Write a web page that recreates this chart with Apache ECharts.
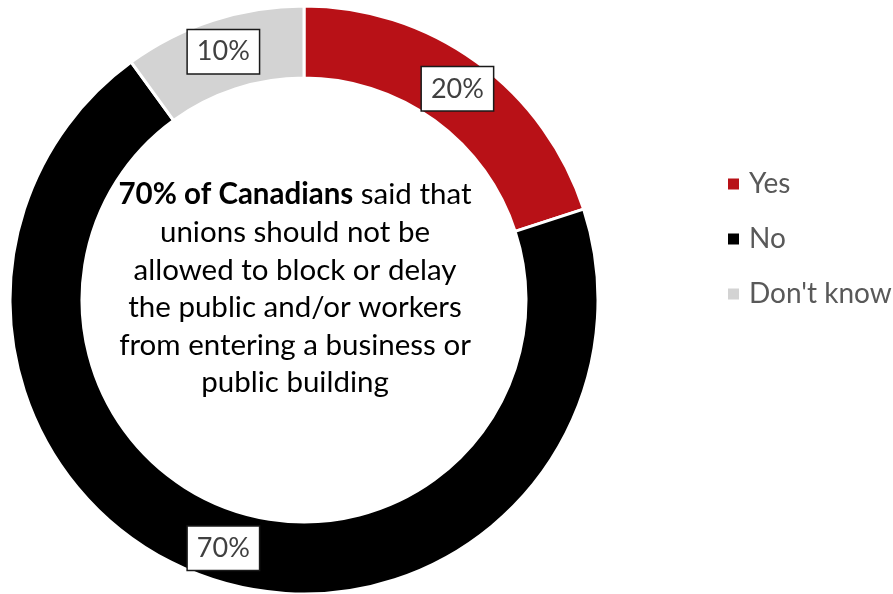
<!DOCTYPE html>
<html>
<head>
<meta charset="utf-8">
<script src="https://cdn.jsdelivr.net/npm/echarts@6/dist/echarts.min.js"></script>
<style>
  html, body { margin: 0; padding: 0; background: #fff; }
  #chart { width: 893px; height: 594px; }
</style>
</head>
<body>
<div id="chart"></div>
<script>
// 資料
const categories = ["Yes", "No", "Don't know"];
const values = [20, 70, 10];
const colors = ["#B81117", "#000000", "#D3D3D3"];

const chart = echarts.init(document.getElementById("chart"));

const option = {
  animation: false,
  // 中央說明文字
  title: {
    text: "{b|70% of Canadians} said that\nunions should not be\nallowed to block or delay\nthe public and/or workers\nfrom entering a business or\npublic building",
    left: 295,
    top: 176,
    textAlign: "center",
    padding: 0,
    textStyle: {
      fontFamily: "Lato",
      fontSize: 29.5,
      fontWeight: "normal",
      color: "#000",
      lineHeight: 37.6,
      rich: {
        b: { fontFamily: "Lato", fontSize: 29.5, fontWeight: "bold", color: "#000", lineHeight: 37.6 },
      },
    },
  },
  // 圖例
  legend: {
    orient: "vertical",
    left: 721,
    top: 165,
    itemWidth: 13,
    itemHeight: 13,
    itemGap: 27,
    icon: "rect",
    data: categories,
    textStyle: { fontFamily: "Lato", fontSize: 28, color: "#595959", padding: [0, 0, 0, 4] },
  },
  series: [
    {
      type: "pie",
      center: [304, 300],
      radius: [222, 294],
      startAngle: 90,
      clockwise: true,
      color: colors,
      itemStyle: { borderColor: "#fff", borderWidth: 3 },
      emphasis: { disabled: true },
      label: {
        show: true,
        position: "inside",
        formatter: "{c}%",
        fontFamily: "Lato",
        fontSize: 27,
        color: "#404040",
        backgroundColor: "#fff",
        borderColor: "#1a1a1a",
        borderWidth: 1.5,
        padding: [9, 9, 7, 9],
      },
      labelLine: { show: false },
      data: categories.map((name, i) => ({ name, value: values[i] })),
    },
  ],
};
chart.setOption(option);
</script>
</body>
</html>
